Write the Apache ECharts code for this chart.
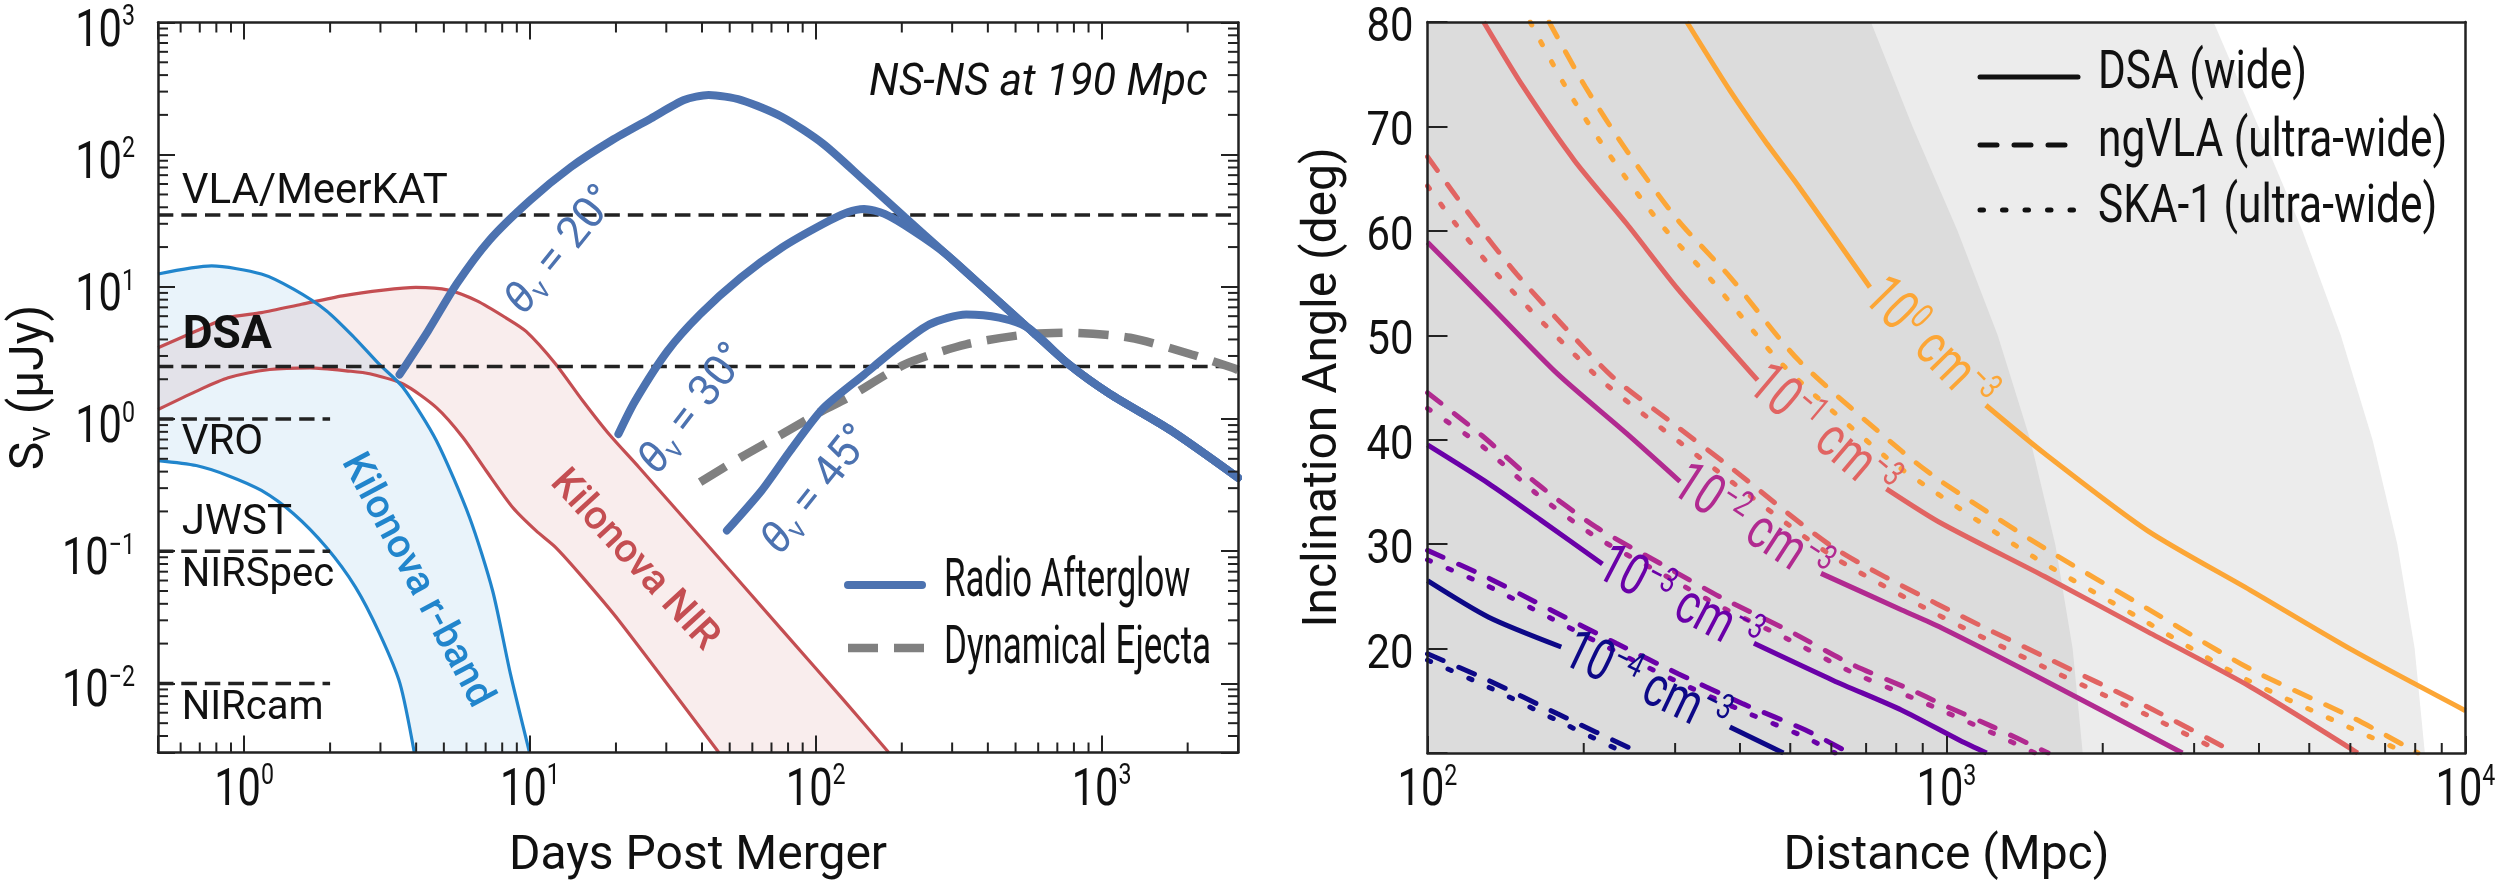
<!DOCTYPE html>
<html lang="en">
<head>
<meta charset="UTF-8">
<title>NS-NS radio afterglow detectability</title>
<script src="https://cdn.jsdelivr.net/npm/echarts@6/dist/echarts.min.js"></script>
<style>
  html, body { margin: 0; padding: 0; background: #fff; }
  #main { width: 2500px; height: 890px; }
</style>
</head>
<body>
<div id="main"></div>
<script>
// ---------------- left panel: light curves at 190 Mpc ----------------
var dayTicks = [1, 10, 100, 1000];
var fluxTicks = [0.01, 0.1, 1, 10, 100, 1000];
var minorMantissa = [2, 3, 4, 5, 6, 7, 8, 9];

// kilonova r-band envelope [days, uJy]
var rbandUpper = [[0.5, 12.5], [0.77, 14.4], [1.15, 12.5], [1.49, 9.6], [1.94, 6.6], [2.44, 4.1], [2.97, 2.6], [3.6, 1.73], [4.71, 0.685], [6.15, 0.18], [7.41, 0.05], [8.54, 0.0119], [9.97, 0.003]];
var rbandLower = [[0.5, 0.485], [0.68, 0.445], [0.88, 0.373], [1.15, 0.288], [1.49, 0.192], [1.94, 0.107], [2.45, 0.0537], [2.98, 0.0238], [3.51, 0.01], [3.94, 0.003]];
// kilonova NIR envelope
var nirUpper = [[0.5, 3.46], [0.68, 4.63], [0.88, 5.85], [1.15, 6.38], [1.59, 7.38], [2.21, 8.55], [3.07, 9.45], [3.99, 9.9], [5.19, 9.45], [6.53, 7.83], [8.22, 5.85], [9.7, 4.6], [12.3, 2.61], [15.3, 1.375], [18.9, 0.77], [24.1, 0.43], [39.5, 0.128], [76.3, 0.0253], [125, 0.0075], [180, 0.003]];
var nirLower = [[0.5, 1.18], [0.68, 1.62], [0.88, 2.05], [1.23, 2.37], [1.7, 2.44], [2.36, 2.3], [2.75, 2.2], [3.6, 1.84], [4.71, 1.22], [5.83, 0.726], [7.03, 0.406], [8.71, 0.214], [10.5, 0.143], [12.3, 0.107], [15.3, 0.0634], [20.5, 0.0298], [45.8, 0.003]];
// radio afterglow, rising parts per viewing angle and the shared decline
var ag20Rise = [[3.5, 2.17], [4.4, 4.63], [5.54, 10.5], [7.2, 22.4], [10, 45], [13.9, 80.5], [19.3, 128], [26.5, 188], [34.6, 259], [42.2, 283], [54.9, 259], [76.3, 193], [106, 121], [147.6, 63.9], [205, 33.6]];
var ag30Rise = [[20.4, 0.77], [23.3, 1.36], [30.3, 3.27], [39.4, 6.2], [54.8, 11.8], [76.3, 19.9], [106, 29.9], [129.4, 36.7], [147.6, 38.9], [174, 35.6], [219, 26.6]];
var ag45Rise = [[48.9, 0.1436], [64.7, 0.288], [81.5, 0.577], [106, 1.2], [147.6, 2.17], [192, 3.46], [250, 5.2], [336, 6.19], [438, 5.85]];
var agTail = [[285.5, 17.7], [397, 9.33], [552, 4.91], [768, 2.59], [1068, 1.55], [1752, 0.817], [3000, 0.36]];
// dynamical ejecta
var ejecta = [[39.4, 0.333], [54.8, 0.514], [76.3, 0.77], [106, 1.16], [129, 1.44], [205, 2.59], [336, 3.67], [552, 4.38], [768, 4.5], [1259, 4.12], [2065, 3.08], [2872, 2.44], [3000, 2.35]];
// sensitivity levels [uJy]
var vlaLevel = 35, dsaLevel = 2.5, vroLevel = 1, nirspecLevel = 0.1, nircamLevel = 0.01;
var opticalLimitEnd = 2;

// ---------------- right panel: inclination vs distance ----------------
var distTicks = [100, 1000, 10000];
var angleTicks = [20, 30, 40, 50, 60, 70, 80];
// GW horizon edges [Mpc, deg]
var horizonInner = [[1830, 10], [1750, 20], [1620, 30], [1450, 40], [1255, 50], [1050, 60], [860, 70], [715, 80]];
var horizonOuter = [[8350, 10], [7980, 20], [7390, 30], [6620, 40], [5750, 50], [4850, 60], [3990, 70], [3270, 80]];
// detectability contours, density 1e0 ... 1e-4 cm^-3 (null = label gap)
var dsa0 = [[316, 80], [383, 73.4], [447, 68.6], [520, 64.2], [712, 54.6], null, [1191, 43.3], [1543, 38.7], [2438, 31.3], [3846, 25.6], [6080, 19.8], [10000, 14.05]];
var dsa1 = [[128.3, 80], [152.9, 73.8], [192.2, 66.7], [241.8, 60.7], [304, 54.4], [432.5, 45.7], null, [766, 35.3], [977, 32.0], [1546, 26.9], [2443, 21.6], [3864, 16.3], [6200, 10]];
var dsa2 = [[100, 58.9], [131.2, 53.0], [178.1, 46.3], [241.8, 40.6], [306.5, 36.0], null, [573, 27.2], [820, 23.7], [977, 22.0], [1546, 16.95], [2848, 10]];
var dsa3 = [[100, 39.5], [131.2, 35.8], [165.3, 32.3], [217.3, 28.1], null, [425.6, 20.5], [605, 16.95], [820, 14.1], [1062, 11.2], [1195, 10]];
var dsa4 = [[100, 26.5], [131.2, 23.0], [181, 20.15], null, [382.5, 12.5], [485, 10]];
var ngvla0 = [[171.5, 80], [201.4, 73.8], [241.8, 67.7], [304, 61.0], [382.5, 55.6], [519, 47.6], [820, 38.9], [977, 36.0], [1546, 29.6], [2443, 23.8], [3864, 18.0], [6110, 13.3], [8100, 10]];
var ngvla1 = [[100, 67.1], [121.6, 61.3], [148.3, 55.9], [183.6, 50.8], [227.5, 46.0], [300, 41.4], [382.5, 37.4], [605, 29.7], [957, 24.3], [1546, 19.2], [2443, 14.4], [3600, 10]];
var ngvla2 = [[100, 44.5], [127.3, 40.4], [162.5, 35.8], [211, 31.65], [282, 28.1], [371, 24.8], [495, 21.75], [653, 18.55], [859, 16.0], [977, 14.7], [1229, 12.5], [1570, 10]];
var ngvla3 = [[100, 29.4], [129.3, 26.9], [172.9, 23.7], [231, 20.5], [304, 17.6], [406, 14.7], [535, 12.2], [650, 10]];
var ngvla4 = [[100, 19.5], [131.2, 16.95], [178.1, 13.75], [257, 10]];
var ska0 = [[157.7, 80], [186, 73.5], [224, 67.3], [282, 60.6], [355, 55.1], [485, 47.1], [770, 38.2], [930, 35.3], [1480, 28.7], [2360, 22.9], [3760, 17.1], [6000, 12.4], [7700, 10]];
var ska1 = [[100, 64.3], [116, 60.0], [141.6, 54.9], [178, 49.8], [220.8, 45.3], [382.5, 36.1], [605, 28.8], [957, 23.3], [1546, 18.2], [2443, 13.6], [3420, 10]];
var ska2 = [[100, 43.0], [127.3, 39.4], [162.5, 34.8], [211, 30.7], [282, 27.2], [371, 23.9], [495, 20.9], [653, 17.8], [859, 15.3], [977, 14.1], [1229, 11.9], [1480, 10]];
var ska3 = [[100, 28.5], [129.3, 26.1], [172.9, 22.9], [231, 19.7], [304, 16.8], [406, 14.0], [535, 11.5], [610, 10]];
var ska4 = [[100, 18.9], [131.2, 16.3], [178.1, 13.1], [240, 10]];
var densityExp = [0, -1, -2, -3, -4];
var densityColors = ['#fca636', '#e16462', '#b12a90', '#6a00a8', '#0d0887'];

// ---------------- styling helpers ----------------
var FONT = 'Roboto';
var INK = '#111';

function expText(e) { return e < 0 ? '\u2212' + (-e) : String(e); }

function textEl(x, y, n) {
  var st = {
    text: n.t, fill: n.color || INK, fontFamily: FONT, fontSize: n.size,
    fontWeight: n.weight || 'normal', fontStyle: n.italic ? 'italic' : 'normal',
    align: n.align || 'center', textAlign: n.align || 'center',
    verticalAlign: 'middle', textVerticalAlign: 'middle'
  };
  if (n.lh) st.lineHeight = n.lh;
  if (n.rich) st.rich = n.rich;
  return { type: 'text', x: x, y: y, rotation: (n.rot || 0) * Math.PI / 180, scaleX: n.sx || 1, style: st, z2: 50 };
}

function tickLine(x1, y1, x2, y2) {
  return { type: 'line', shape: { x1: x1, y1: y1, x2: x2, y2: y2 }, style: { stroke: '#222', lineWidth: 2 } };
}

function minorValues(decades, lo, hi) {
  var out = [];
  decades.forEach(function (d) {
    minorMantissa.forEach(function (m) { var v = m * d; if (v > lo && v < hi) out.push(v); });
  });
  return out;
}

function curve(data, xi, yi, color, width, dash, cap) {
  return {
    type: 'line', xAxisIndex: xi, yAxisIndex: yi, data: data, showSymbol: false, symbol: 'none',
    smooth: 0.25, silent: true, z: 2,
    lineStyle: { color: color, width: width, type: dash || 'solid', cap: cap || 'butt' }
  };
}

function polygon(pts, xi, yi, fill) {
  return {
    type: 'custom', xAxisIndex: xi, yAxisIndex: yi, silent: true, z: 1, data: [pts[0]],
    renderItem: function (params, api) {
      return { type: 'polygon', shape: { points: pts.map(function (p) { return api.coord(p); }) }, style: { fill: fill } };
    }
  };
}

function segments(arr) {
  var out = [[]];
  arr.forEach(function (p) { if (p === null) out.push([]); else out[out.length - 1].push(p); });
  return out;
}

var supTick = { s: { fontSize: 29, lineHeight: 41, verticalAlign: 'top', fontFamily: FONT, fill: INK } };

// ---------------- series ----------------
var series = [];

// left: kilonova bands
series.push(polygon(nirUpper.concat(nirLower.slice().reverse()), 0, 0, 'rgba(196,78,82,0.1)'));
series.push(polygon(rbandUpper.concat(rbandLower.slice().reverse()), 0, 0, 'rgba(38,139,210,0.1)'));
series.push(curve(nirUpper, 0, 0, '#c44e52', 3.2));
series.push(curve(nirLower, 0, 0, '#c44e52', 3.2));
series.push(curve(rbandUpper, 0, 0, '#2185cc', 3.2));
series.push(curve(rbandLower, 0, 0, '#2185cc', 3.2));

// left: sensitivity levels
[[vlaLevel, 3000], [dsaLevel, 3000], [vroLevel, opticalLimitEnd], [nirspecLevel, opticalLimitEnd], [nircamLevel, opticalLimitEnd]].forEach(function (l) {
  series.push(curve([[0.5, l[0]], [l[1], l[0]]], 0, 0, '#222', 3.5, [15.5, 8]));
});

// left: ejecta and afterglows
series.push(curve(ejecta, 0, 0, '#808080', 8.5, [30, 16]));
series.push(curve(ag45Rise.concat(agTail.filter(function (p) { return p[0] > 500; })), 0, 0, '#4c72b0', 8, 'solid', 'round'));
series.push(curve(ag30Rise.concat(agTail), 0, 0, '#4c72b0', 8, 'solid', 'round'));
series.push(curve(ag20Rise.concat(agTail), 0, 0, '#4c72b0', 8, 'solid', 'round'));

// right: GW horizon shading
series.push(polygon([[100, 10]].concat(horizonOuter, [[100, 80]]), 2, 2, '#ececec'));
series.push(polygon([[100, 10]].concat(horizonInner, [[100, 80]]), 2, 2, '#dcdcdc'));

// right: contours
var dsaSet = [dsa0, dsa1, dsa2, dsa3, dsa4];
var ngvlaSet = [ngvla0, ngvla1, ngvla2, ngvla3, ngvla4];
var skaSet = [ska0, ska1, ska2, ska3, ska4];
for (var i = 0; i < 5; i++) {
  series.push(curve(skaSet[i], 2, 2, densityColors[i], 5, [3.5, 19], 'round'));
  series.push(curve(ngvlaSet[i], 2, 2, densityColors[i], 5, [17, 17], 'round'));
  segments(dsaSet[i]).forEach(function (seg) { series.push(curve(seg, 2, 2, densityColors[i], 5)); });
}

// left annotations
var thetaRich = {
  th: { fontStyle: 'italic', fontSize: 44, lineHeight: 48, fontFamily: FONT, fill: '#4c72b0' },
  sub: { fontSize: 29, lineHeight: 30, verticalAlign: 'bottom', fontFamily: FONT, fill: '#4c72b0' }
};
var leftNotes = [
  { t: 'VLA/MeerKAT', at: [0.605, vlaLevel], dy: -22, align: 'left', size: 42 },
  { t: 'DSA', at: [0.61, dsaLevel], dy: -30, align: 'left', size: 46, weight: 'bold' },
  { t: 'VRO', at: [0.605, vroLevel], dy: 24, align: 'left', size: 42 },
  { t: 'JWST', at: [0.605, nirspecLevel], dy: -28, align: 'left', size: 42 },
  { t: 'NIRSpec', at: [0.605, nirspecLevel], dy: 25, align: 'left', size: 40 },
  { t: 'NIRcam', at: [0.605, nircamLevel], dy: 26, align: 'left', size: 40 },
  { t: 'NS-NS at 190 Mpc', at: [2350, 344], align: 'right', size: 45, italic: true, sx: 0.95 },
  { t: '{th|\u03b8}{sub|v} = 20\u00b0', at: [11.06, 25.6], dx: 20, dy: 18, rot: 51, size: 44, lh: 48, color: '#4c72b0', rich: thetaRich },
  { t: '{th|\u03b8}{sub|v} = 30\u00b0', at: [32.6, 1.61], dx: 18, dy: 18, rot: 52.6, size: 44, lh: 48, color: '#4c72b0', rich: thetaRich },
  { t: '{th|\u03b8}{sub|v} = 45\u00b0', at: [86.9, 0.38], dx: 20, dy: 16, rot: 51.5, size: 44, lh: 48, color: '#4c72b0', rich: thetaRich },
  { t: 'Kilonova r-band', at: [4.0, 0.0598], rot: -62, size: 40, weight: 500, color: '#2185cc' },
  { t: 'Kilonova NIR', at: [23.1, 0.0848], rot: -47.5, size: 40, weight: 500, color: '#c44e52' }
];

// right contour labels
var contourLabelAt = [[921, 48.95, -45.5], [575, 40.5, -40.2], [419, 31.6, -33.1], [304, 24.3, -27.6], [263, 16.3, -25.4]];
var rightNotes = contourLabelAt.map(function (p, k) {
  return {
    t: '10{s|' + expText(densityExp[k]) + '} cm{s|\u22123}', at: [p[0], p[1]], rot: p[2], size: 57, lh: 62, sx: 0.74,
    color: densityColors[k],
    rich: { s: { fontSize: 35, lineHeight: 44, verticalAlign: 'top', fontFamily: FONT, fill: densityColors[k] } }
  };
});

function notesSeries(notes, xi, yi, dummy) {
  return {
    type: 'custom', xAxisIndex: xi, yAxisIndex: yi, silent: true, z: 5, data: [dummy],
    renderItem: function (params, api) {
      return {
        type: 'group',
        children: notes.map(function (n) {
          var p = api.coord(n.at);
          return textEl(p[0] + (n.dx || 0), p[1] + (n.dy || 0), n);
        })
      };
    }
  };
}
series.push(notesSeries(leftNotes, 0, 0, [1, 1]));
series.push(notesSeries(rightNotes, 2, 2, [1000, 50]));

// minor ticks and tick labels (drawn through the axes' own scales)
var leftMinorX = minorValues([0.1, 1, 10, 100, 1000], 0.5, 3000);
var leftMinorY = minorValues([0.001, 0.01, 0.1, 1, 10, 100], 0.003, 1000);
var rightMinorX = minorValues([100, 1000], 100, 10000);

series.push({
  type: 'custom', xAxisIndex: 0, yAxisIndex: 0, silent: true, z: 6, data: [[1, 1]],
  renderItem: function (params, api) {
    var cs = params.coordSys, kids = [];
    var b = cs.y + cs.height, r = cs.x + cs.width;
    leftMinorX.forEach(function (v) {
      var px = api.coord([v, 1])[0];
      kids.push(tickLine(px, b, px, b - 10), tickLine(px, cs.y, px, cs.y + 10));
    });
    leftMinorY.forEach(function (v) {
      var py = api.coord([1, v])[1];
      kids.push(tickLine(cs.x, py, cs.x + 10, py), tickLine(r, py, r - 10, py));
    });
    dayTicks.forEach(function (v) {
      var px = api.coord([v, 1])[0];
      kids.push(textEl(px, b + 39, { t: '10{s|' + expText(Math.round(Math.log10(v))) + '}', size: 52, lh: 58, sx: 0.8, rich: supTick }));
    });
    fluxTicks.forEach(function (v) {
      var py = api.coord([1, v])[1];
      kids.push(textEl(cs.x - 23, py + 10, { t: '10{s|' + expText(Math.round(Math.log10(v))) + '}', size: 52, lh: 58, sx: 0.8, align: 'right', rich: supTick }));
    });
    return { type: 'group', children: kids };
  }
});

series.push({
  type: 'custom', xAxisIndex: 2, yAxisIndex: 2, silent: true, z: 6, data: [[1000, 50]],
  renderItem: function (params, api) {
    var cs = params.coordSys, kids = [];
    var b = cs.y + cs.height;
    rightMinorX.forEach(function (v) {
      var px = api.coord([v, 50])[0];
      kids.push(tickLine(px, b, px, b - 10));
    });
    distTicks.forEach(function (v) {
      var px = api.coord([v, 50])[0];
      kids.push(textEl(px, b + 39, { t: '10{s|' + expText(Math.round(Math.log10(v))) + '}', size: 52, lh: 58, sx: 0.8, rich: supTick }));
    });
    angleTicks.forEach(function (v) {
      var py = api.coord([1000, v])[1];
      kids.push(textEl(cs.x - 14, py + 7, { t: String(v), size: 48, sx: 0.87, align: 'right' }));
    });
    return { type: 'group', children: kids };
  }
});

// ---------------- axes ----------------
var frameLine = { show: true, lineStyle: { color: '#222', width: 2.5 } };
function axis(extra) {
  var a = {
    axisLine: frameLine, axisLabel: { show: false }, splitLine: { show: false },
    axisTick: { show: true, inside: true, length: 17, lineStyle: { color: '#222', width: 2 } },
    z: 3, nameTextStyle: { fontFamily: FONT, fontSize: 48, color: INK }
  };
  for (var k in extra) a[k] = extra[k];
  return a;
}

var option = {
  animation: false,
  backgroundColor: '#ffffff',
  grid: [
    { left: 158, top: 22.5, width: 1080, height: 730 },
    { left: 1427.5, top: 22, width: 1038, height: 731 }
  ],
  xAxis: [
    axis({ type: 'log', logBase: 10, gridIndex: 0, min: 0.5, max: 3000, position: 'bottom',
      name: 'Days Post Merger', nameLocation: 'middle', nameGap: 80 }),
    axis({ type: 'log', logBase: 10, gridIndex: 0, min: 0.5, max: 3000, position: 'top' }),
    axis({ type: 'log', logBase: 10, gridIndex: 1, min: 100, max: 10000, position: 'bottom',
      name: 'Distance (Mpc)', nameLocation: 'middle', nameGap: 80 }),
    axis({ type: 'log', logBase: 10, gridIndex: 1, min: 100, max: 10000, position: 'top', axisTick: { show: false } })
  ],
  yAxis: [
    axis({ type: 'log', logBase: 10, gridIndex: 0, min: 0.003, max: 1000, position: 'left',
      name: 'S{sub|\u03bd} (\u03bcJy)', nameLocation: 'middle', nameGap: 100,
      nameTextStyle: { fontFamily: FONT, fontSize: 48, color: INK, lineHeight: 54,
        rich: { sub: { fontFamily: FONT, fontSize: 32, lineHeight: 34, verticalAlign: 'bottom', color: INK } } } }),
    axis({ type: 'log', logBase: 10, gridIndex: 0, min: 0.003, max: 1000, position: 'right' }),
    axis({ type: 'value', gridIndex: 1, min: 10, max: 80, interval: 10, position: 'left',
      axisTick: { show: true, inside: true, length: 20, lineStyle: { color: '#222', width: 2 } },
      name: 'Inclination Angle (deg)', nameLocation: 'middle', nameGap: 80 }),
    axis({ type: 'value', gridIndex: 1, min: 10, max: 80, interval: 10, position: 'right', axisTick: { show: false } })
  ],
  graphic: [
    // left legend
    { type: 'line', shape: { x1: 848, y1: 585, x2: 922, y2: 585 }, style: { stroke: '#4c72b0', lineWidth: 8, lineCap: 'round' }, z: 10 },
    { type: 'text', x: 944, y: 583, scaleX: 0.655, z: 10,
      style: { text: 'Radio Afterglow', fontFamily: FONT, fontSize: 53, fill: INK, align: 'left', verticalAlign: 'middle', textAlign: 'left', textVerticalAlign: 'middle' } },
    { type: 'line', shape: { x1: 848, y1: 648, x2: 924, y2: 648 }, style: { stroke: '#808080', lineWidth: 8.5, lineDash: [30, 16] }, z: 10 },
    { type: 'text', x: 944, y: 650, scaleX: 0.66, z: 10,
      style: { text: 'Dynamical Ejecta', fontFamily: FONT, fontSize: 53, fill: INK, align: 'left', verticalAlign: 'middle', textAlign: 'left', textVerticalAlign: 'middle' } },
    // right legend
    { type: 'line', shape: { x1: 1980, y1: 77, x2: 2078, y2: 77 }, style: { stroke: '#111', lineWidth: 5, lineCap: 'round' }, z: 10 },
    { type: 'text', x: 2098, y: 75, scaleX: 0.8, z: 10,
      style: { text: 'DSA (wide)', fontFamily: FONT, fontSize: 53, fill: INK, align: 'left', verticalAlign: 'middle', textAlign: 'left', textVerticalAlign: 'middle' } },
    { type: 'line', shape: { x1: 1980, y1: 145, x2: 2078, y2: 145 }, style: { stroke: '#111', lineWidth: 5, lineDash: [17, 17], lineCap: 'round' }, z: 10 },
    { type: 'text', x: 2098, y: 143, scaleX: 0.8, z: 10,
      style: { text: 'ngVLA (ultra-wide)', fontFamily: FONT, fontSize: 53, fill: INK, align: 'left', verticalAlign: 'middle', textAlign: 'left', textVerticalAlign: 'middle' } },
    { type: 'line', shape: { x1: 1980, y1: 210, x2: 2078, y2: 210 }, style: { stroke: '#111', lineWidth: 5, lineDash: [3.5, 19], lineCap: 'round' }, z: 10 },
    { type: 'text', x: 2098, y: 209, scaleX: 0.8, z: 10,
      style: { text: 'SKA-1 (ultra-wide)', fontFamily: FONT, fontSize: 53, fill: INK, align: 'left', verticalAlign: 'middle', textAlign: 'left', textVerticalAlign: 'middle' } }
  ],
  series: series
};

var chart = echarts.init(document.getElementById('main'));
chart.setOption(option);
</script>
</body>
</html>
